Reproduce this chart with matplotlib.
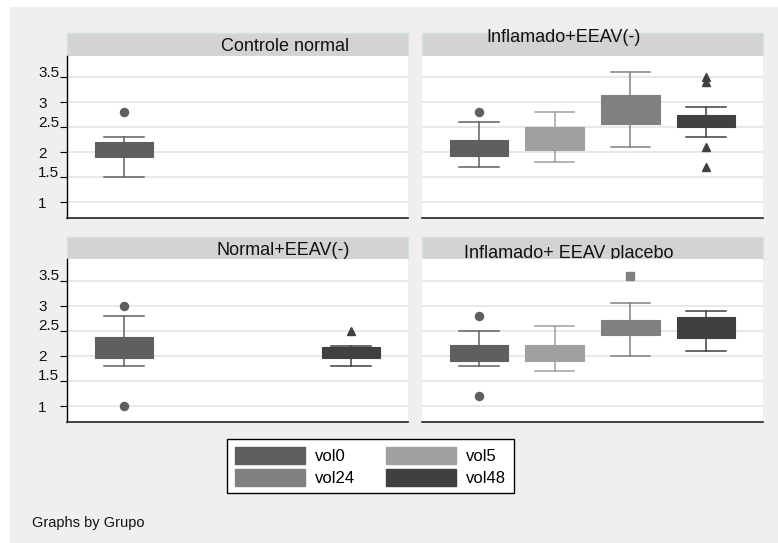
import numpy as np
import matplotlib
matplotlib.use("Agg")
from matplotlib import pyplot as plt
from matplotlib.patches import Patch, Rectangle

plt.rcParams['font.family'] = ['Liberation Sans', 'DejaVu Sans']

# panels, in drawing order (top-left, top-right, bottom-left, bottom-right)
groups = ["Controle normal", "Inflamado+EEAV(-)", "Normal+EEAV(-)", "Inflamado+ EEAV placebo"]
series = ["vol0", "vol5", "vol24", "vol48"]
nan = np.nan

# box statistics, one row per group, one column per series
whisk_lo = [[1.5, nan, nan, nan],
            [1.7, 1.8, 2.1, 2.3],
            [1.8, nan, nan, 1.8],
            [1.8, 1.7, 2.0, 2.1]]
q1 = [[1.9, nan, nan, nan],
      [1.93, 2.04, 2.57, 2.5],
      [1.95, nan, nan, 1.95],
      [1.89, 1.89, 2.41, 2.35]]
med = [[2.0, nan, nan, nan],
       [2.1, 2.3, 2.9, 2.6],
       [2.1, nan, nan, 2.0],
       [2.0, 2.0, 2.6, 2.5]]
q3 = [[2.2, nan, nan, nan],
      [2.25, 2.5, 3.15, 2.75],
      [2.37, nan, nan, 2.17],
      [2.22, 2.22, 2.72, 2.77]]
whisk_hi = [[2.3, nan, nan, nan],
            [2.6, 2.8, 3.6, 2.9],
            [2.8, nan, nan, 2.2],
            [2.5, 2.6, 3.05, 2.9]]
outliers = [[[2.8], [], [], []],
            [[2.8], [], [], [1.7, 2.1, 3.4, 3.5]],
            [[1.0, 3.0], [], [], [2.5]],
            [[1.2, 2.8], [], [3.6], []]]

yticks = [1, 1.5, 2, 2.5, 3, 3.5]
ytick_labels = ["1", "1.5", "2", "2.5", "3", "3.5"]

colors = ["#5f5f5f", "#a0a0a0", "#808080", "#404040"]
markers = ["o", "D", "s", "^"]

W, H = 778, 543
fig = plt.figure(figsize=(W / 100, H / 100), dpi=100, facecolor="white")
fig.patches.append(Rectangle((10 / W, 0), 1 - 10 / W, 1 - 7 / H, transform=fig.transFigure,
                             facecolor="#efefef", edgecolor="none", zorder=-10))


def px_axes(x0, y0, x1, y1):
    return fig.add_axes([x0 / W, 1 - y1 / H, (x1 - x0) / W, (y1 - y0) / H])


# pixel boxes: (x0, x1, header top, header bottom, plot bottom)
layout = [(67, 408, 33, 56, 218), (422, 763, 33, 56, 218),
          (67, 408, 237, 259, 422), (422, 763, 237, 259, 422)]
# where the strip titles sit (x as fraction of panel, baseline as fraction of strip)
title_pos = [(0.639, 0.22), (0.416, 0.63), (0.633, 0.18), (0.431, 0.03)]

for g, (x0, x1, ht, hb, pb) in enumerate(layout):
    # strip
    hax = px_axes(x0, ht, x1, hb)
    hax.set_axis_off()
    hax.add_patch(Rectangle((0, 0), 1, 1, transform=hax.transAxes, facecolor="#d3d3d3",
                            edgecolor="#d4e0e6", lw=1, clip_on=False))
    hax.text(title_pos[g][0], title_pos[g][1], groups[g], transform=hax.transAxes,
             ha="center", va="baseline", fontsize=13, color="#111111")

    ax = px_axes(x0, hb, x1, pb)
    ax.set_facecolor("white")
    ax.set_xlim(0.25, 4.75)
    ax.set_ylim(0.68, 3.93)
    for v in yticks:
        ax.axhline(v, color="#e6e6e6", lw=1.3, zorder=0)

    for s in range(4):
        if np.isnan(q1[g][s]):
            continue
        st = [dict(whislo=whisk_lo[g][s], q1=q1[g][s], med=med[g][s], q3=q3[g][s],
                   whishi=whisk_hi[g][s], fliers=outliers[g][s])]
        c = colors[s]
        ax.bxp(st, positions=[s + 1], widths=0.77, capwidths=0.52, patch_artist=True,
               boxprops=dict(facecolor=c, edgecolor=c, lw=0.8),
               medianprops=dict(color=c, lw=0),
               whiskerprops=dict(color=c, lw=1.1),
               capprops=dict(color=c, lw=1.1),
               flierprops=dict(marker=markers[s], markerfacecolor=c, markeredgecolor=c,
                               markersize=5.8 if s != 3 else 6.3),
               manage_ticks=False, zorder=3)

    for side in ["top", "right"]:
        ax.spines[side].set_visible(False)
    ax.spines["bottom"].set_color("#222222")
    ax.spines["bottom"].set_linewidth(1.2)
    ax.set_xticks([])
    if g % 2 == 0:
        ax.spines["left"].set_color("black")
        ax.spines["left"].set_linewidth(1.0)
        ax.set_yticks(yticks)
        ax.set_yticklabels([])
        ax.tick_params(axis="y", direction="out", length=5, width=0.8, color="black")
        for v, lab in zip(yticks, ytick_labels):
            dy = 0.3 if "." in lab else -4.0
            ax.annotate(lab, xy=(0, v), xycoords=ax.get_yaxis_transform(),
                        xytext=(-29 * 0.72, dy), textcoords="offset points",
                        ha="left", va="baseline", fontsize=11, color="#111111",
                        annotation_clip=False)
    else:
        ax.spines["left"].set_visible(False)
        ax.set_yticks([])

handles = [Patch(facecolor=c, edgecolor=c) for c in colors]
# order so that the two columns read vol0/vol24 and vol5/vol48
order = [0, 2, 1, 3]
leg = fig.legend([handles[i] for i in order], [series[i] for i in order], ncol=2,
                 loc="upper left", bbox_to_anchor=(227 / W, 1 - 439 / H),
                 fontsize=12, handlelength=4.2, handleheight=1.2, handletextpad=0.6,
                 columnspacing=1.9, labelspacing=0.3, borderpad=0.45, borderaxespad=0,
                 fancybox=False, framealpha=1, edgecolor="black")
leg.get_frame().set_linewidth(1.0)

fig.text(32 / W, 1 - 527 / H, "Graphs by Grupo", fontsize=10.5, ha="left", va="baseline",
         color="#111111")

plt.savefig("out.png", dpi=100, facecolor=fig.get_facecolor())
